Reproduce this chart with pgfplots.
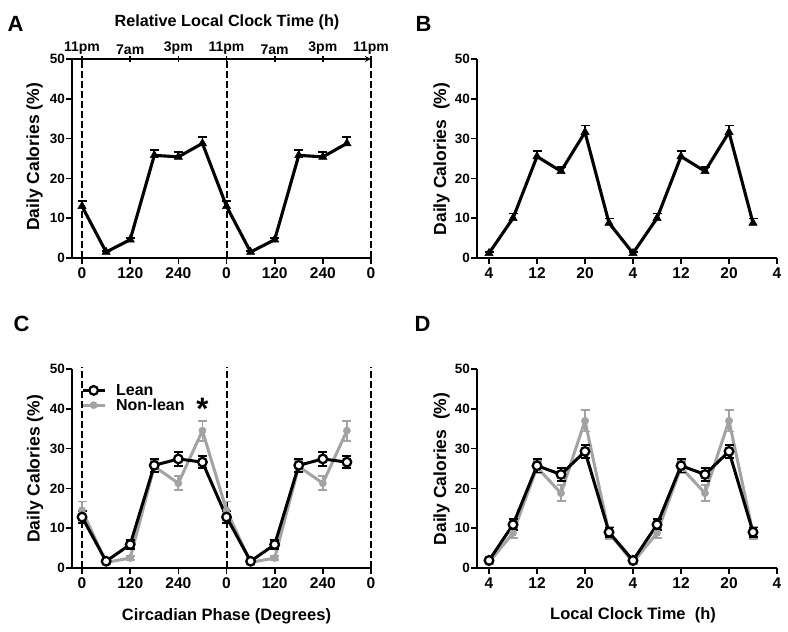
\documentclass[border=0pt]{standalone}
\usepackage{pgfplots}
\pgfplotsset{compat=1.18}
\usepackage{pgfplotstable}
\usepackage{fontspec}
\setmainfont{Liberation Sans}
\definecolor{nl}{RGB}{163,163,163}
\newcommand{\fs}[1]{\fontsize{#1bp}{#1bp}\selectfont\bfseries}

\pgfplotstableread{
x y e
0 13.0 1.4
60 1.5 0.3
120 4.6 0.4
180 25.8 1.3
240 25.4 1.2
300 28.8 1.5
360 13.0 1.4
420 1.5 0.3
480 4.6 0.4
540 25.8 1.3
600 25.4 1.2
660 28.8 1.5
}\dataA

\pgfplotstableread{
x y e
4 1.2 0.3
8 10.0 1.2
12 25.5 1.4
16 21.8 1.1
20 31.6 1.7
24 8.8 1.1
28 1.2 0.3
32 10.0 1.2
36 25.5 1.4
40 21.8 1.1
44 31.6 1.7
48 8.8 1.1
}\dataB

\pgfplotstableread{
x y e
0 12.8 1.5
60 1.7 0.3
120 5.9 1.2
180 25.8 1.6
240 27.4 1.7
300 26.6 1.5
360 12.8 1.5
420 1.7 0.3
480 5.9 1.2
540 25.8 1.6
600 27.4 1.7
660 26.6 1.5
}\dataCl

\pgfplotstableread{
x y e
0 14.5 2.2
60 1.4 0.3
120 2.5 0.5
180 25.5 1.5
240 21.3 1.8
300 34.5 2.5
360 14.5 2.2
420 1.4 0.3
480 2.5 0.5
540 25.5 1.5
600 21.3 1.8
660 34.5 2.5
}\dataCn

\pgfplotstableread{
x y e
4 1.9 0.3
8 10.9 1.4
12 25.7 1.7
16 23.5 1.6
20 29.3 1.7
24 9.0 1.2
28 1.9 0.3
32 10.9 1.4
36 25.7 1.7
40 23.5 1.6
44 29.3 1.7
48 9.0 1.2
}\dataDl

\pgfplotstableread{
x y e
4 1.4 0.3
8 8.8 1.3
12 25.3 1.5
16 18.8 2.0
20 37.0 2.7
24 8.8 1.6
28 1.4 0.3
32 8.8 1.3
36 25.3 1.5
40 18.8 2.0
44 37.0 2.7
48 8.8 1.6
}\dataDn

\pgfplotsset{
  panel/.style={
    scale only axis, width=299bp, height=199bp, clip=false,
    anchor=south west,
    axis x line=bottom, axis y line=left,
    axis line style={line width=1.7bp, -, black},
    tick style={line width=1.7bp, black},
    tick align=outside, major tick length=6bp,
    ymin=0, ymax=50, ytick={0,10,20,30,40,50},
    yticklabel style={font=\bfseries\fontsize{13.5bp}{14bp}\selectfont, inner sep=1bp},
    xticklabel style={font=\bfseries\fontsize{15.5bp}{16bp}\selectfont},
    /pgf/number format/assume math mode=true,
  },
  deg/.style={xmin=-25, xmax=720, xtick={0,120,...,720}, xticklabels={0,120,240,0,120,240,0}},
  hrs/.style={xmin=2, xmax=52, xtick={4,12,...,52}, xticklabels={4,12,20,4,12,20,4}},
  tri/.style={black, line width=3.1bp, mark=triangle*, mark size=4.8bp,
    mark options={solid, line width=0.5bp},
    error bars/y dir=plus, error bars/y explicit,
    error bars/error bar style={line width=1.8bp, black},
    error bars/error mark options={rotate=90, line width=1.8bp, mark size=4.5bp, black}},
  lean/.style={black, line width=3bp, mark=*, mark size=4.3bp,
    mark options={fill=white, draw=black, line width=2.3bp},
    error bars/y dir=both, error bars/y explicit,
    error bars/error bar style={line width=1.8bp, black},
    error bars/error mark options={rotate=90, line width=1.8bp, mark size=4.5bp, black}},
  nonlean/.style={nl, line width=3bp, mark=*, mark size=3.6bp,
    mark options={fill=nl, draw=nl, line width=0.5bp},
    error bars/y dir=both, error bars/y explicit,
    error bars/error bar style={line width=1.8bp, nl},
    error bars/error mark options={rotate=90, line width=1.8bp, mark size=4.5bp, nl}},
  vdash/.style={black, line width=2bp, dash pattern=on 6.5bp off 3.5bp, forget plot},
}

\begin{document}
\begin{tikzpicture}
\useasboundingbox (0,0) rectangle (788bp,632bp);

% ---------- Panel A ----------
\begin{axis}[panel, deg, at={(72bp,374bp)}]
\addplot[vdash] coordinates {(0,0) (0,50)};
\addplot[vdash] coordinates {(360,0) (360,50)};
\addplot[vdash] coordinates {(720,0) (720,50)};
\addplot[tri] table[x=x, y=y, y error=e] {\dataA};
\end{axis}
\begin{axis}[panel, deg, at={(72bp,374bp)}, axis x line=top, axis y line=none,
  xticklabels={11pm,7am,3pm,11pm,7am,3pm,11pm},
  xticklabel style={font=\bfseries\fontsize{14bp}{15bp}\selectfont, inner sep=1.5bp}, ytick=\empty]
\addplot[draw=none] coordinates {(0,0)};
\end{axis}

% ---------- Panel B ----------
\begin{axis}[panel, hrs, at={(477bp,374bp)}, width=300bp]
\addplot[tri] table[x=x, y=y, y error=e] {\dataB};
\end{axis}

% ---------- Panel C ----------
\begin{axis}[panel, deg, at={(72bp,64bp)},
  legend image code/.code={\draw[mark repeat=2,mark phase=2,#1] plot coordinates {(0bp,0bp)(11bp,0bp)(22bp,0bp)};},
  legend cell align=left,
  legend style={at={(rel axis cs:0.03,0.93)}, anchor=north west, draw=none, fill=none,
    font=\fs{16}, inner sep=0bp, row sep=0bp, column sep=0bp, nodes={inner sep=1bp},
    /tikz/every odd column/.append style={column sep=9bp}}]
\addplot[vdash] coordinates {(0,0) (0,50.5)};
\addplot[vdash] coordinates {(360,0) (360,50.5)};
\addplot[vdash] coordinates {(720,0) (720,50.5)};
\addplot[nonlean, forget plot] table[x=x, y=y, y error=e] {\dataCn};
\addplot[lean] table[x=x, y=y, y error=e] {\dataCl};
\addlegendentry{Lean}
\addlegendimage{nonlean}
\addlegendentry{Non-lean}
\node[anchor=base, font=\fs{31}, yshift=-16bp] at (axis cs:300,41.3) {*};
\end{axis}

% ---------- Panel D ----------
\begin{axis}[panel, hrs, at={(477bp,64bp)}, width=300bp]
\addplot[nonlean] table[x=x, y=y, y error=e] {\dataDn};
\addplot[lean] table[x=x, y=y, y error=e] {\dataDl};
\end{axis}

% ---------- Labels ----------
\node[anchor=base west, font=\fs{22}] at (4bp,600bp) {A};
\node[anchor=base west, font=\fs{22}] at (412bp,600bp) {B};
\node[anchor=base west, font=\fs{22}] at (10bp,300bp) {C};
\node[anchor=base west, font=\fs{22}] at (411bp,300bp) {D};
\node[anchor=base, font=\fs{16.2}] at (227bp,605bp) {Relative Local Clock Time (h)};
\node[rotate=90, anchor=center, font=\fs{17.5}] at (34.5bp,475bp) {Daily Calories (\%)};
\node[rotate=90, anchor=center, font=\fs{17.5}] at (441.5bp,473bp) {Daily Calories\ \ (\%)};
\node[rotate=90, anchor=center, font=\fs{17.5}] at (35bp,163bp) {Daily Calories (\%)};
\node[rotate=90, anchor=center, font=\fs{17.5}] at (441.5bp,163bp) {Daily Calories\ \ (\%)};
\node[anchor=base, font=\fs{16.5}] at (226.5bp,12bp) {Circadian Phase (Degrees)};
\node[anchor=base, font=\fs{16.5}] at (633bp,12.5bp) {Local Clock Time\ \ (h)};
\end{tikzpicture}
\end{document}
